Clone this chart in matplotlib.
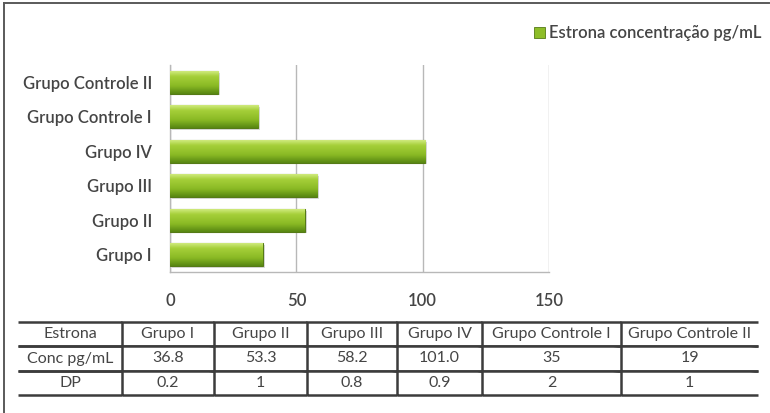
import numpy as np
import matplotlib
matplotlib.use("Agg")
import matplotlib.pyplot as plt
from matplotlib.colors import LinearSegmentedColormap
from matplotlib.lines import Line2D

# Estrona concentration per group (pg/mL) and standard deviation
groups = ["Grupo I", "Grupo II", "Grupo III", "Grupo IV",
          "Grupo Controle I", "Grupo Controle II"]
conc = [36.8, 53.3, 58.2, 101.0, 35, 19]
conc_labels = ["36.8", "53.3", "58.2", "101.0", "35", "19"]
dp_labels = ["0.2", "1", "0.8", "0.9", "2", "1"]
xticks = [0, 50, 100, 150]
legend_label = "Estrona concentração pg/mL"

FONT = "Lato"
TXT = "#454545"
W, H = 770, 413

fig = plt.figure(figsize=(W / 100, H / 100), dpi=100)
fig.patch.set_facecolor("white")


def px_box(x0, y0, x1, y1):
    """pixel box (top-left origin) -> figure fraction rect"""
    return [x0 / W, 1 - y1 / H, (x1 - x0) / W, (y1 - y0) / H]


# outer frame (left and top edges)
fig.add_artist(Line2D([4 / W, 4 / W], [0, 1 - 3 / H], transform=fig.transFigure,
                      color="#5a5a5a", lw=1.4))
fig.add_artist(Line2D([4 / W, 769 / W], [1 - 3 / H, 1 - 3 / H], transform=fig.transFigure,
                      color="#5a5a5a", lw=1.4))

# bar chart
ax = fig.add_axes(px_box(170, 65, 549, 272))
ypos = np.arange(len(groups))
grad_cmap = LinearSegmentedColormap.from_list(
    "bar", [(0.0, "#d0ea7e"), (0.22, "#a6d03a"), (0.65, "#89b924"), (1.0, "#578612")])
grad = np.linspace(0, 1, 64).reshape(-1, 1)

# soft drop shadow under each bar
ax.barh(ypos - 0.05, conc, height=0.66, left=0.8, color="#9a9a9a", alpha=0.35,
        zorder=2, linewidth=0)
bars = ax.barh(ypos, conc, height=0.66, color="#8dbd28", edgecolor="#557a16",
               linewidth=0.8, zorder=3)
for b in bars:
    x0, y0 = b.get_x(), b.get_y()
    im = ax.imshow(grad, cmap=grad_cmap, aspect="auto", origin="upper",
                   extent=(x0, x0 + b.get_width(), y0, y0 + b.get_height()),
                   zorder=3.5, interpolation="bicubic")
    im.set_clip_path(b)

ax.set_xlim(0, 150)
ax.set_ylim(-0.5, len(groups) - 0.5)
ax.set_xticks(xticks)
ax.set_xticklabels([str(t) for t in xticks], fontsize=12, color=TXT, family=FONT)
ax.set_yticks(ypos)
ax.set_yticklabels(groups, fontsize=12, color=TXT, family=FONT)
ax.tick_params(axis="both", length=0)
ax.tick_params(axis="x", pad=15)
ax.tick_params(axis="y", pad=13)
for t in ax.get_xticklabels() + ax.get_yticklabels():
    t.set_fontweight("semibold")
ax.xaxis.grid(True, color="#b8b8b8", lw=1.0, zorder=1)
ax.set_axisbelow(True)
for s in ["top", "right"]:
    ax.spines[s].set_visible(False)
for s in ["left", "bottom"]:
    ax.spines[s].set_color("#b8b8b8")
    ax.spines[s].set_linewidth(1.0)

# legend
fig.legend([plt.Rectangle((0, 0), 1, 1, facecolor="#8dbd28", edgecolor="#557a16", lw=0.6)],
           [legend_label], loc="center left", bbox_to_anchor=(526 / W, 1 - 33 / H),
           frameon=False, handlelength=0.65, handleheight=0.65, handletextpad=0.25,
           borderpad=0, prop={"family": FONT, "size": 12, "weight": "semibold"},
           labelcolor=TXT)

# data table under the chart
tax = fig.add_axes(px_box(18, 322, 758, 395))
tax.axis("off")
col_widths = np.array([104, 92, 93, 90, 85, 139, 137], dtype=float)
col_widths /= col_widths.sum()
cells = [["Estrona"] + groups,
         ["Conc pg/mL"] + conc_labels,
         ["DP"] + dp_labels]
tbl = tax.table(cellText=cells, colWidths=col_widths, cellLoc="center",
                bbox=[0, 0, 1, 1])
tbl.auto_set_font_size(False)
for (r, c), cell in tbl.get_celld().items():
    cell.visible_edges = "TB" if c == 0 else "TBL"
    cell.set_edgecolor("#3c3c3c")
    cell.set_linewidth(1.8)
    cell.get_text().set_fontsize(11.5)
    cell.get_text().set_color(TXT)
    cell.get_text().set_family(FONT)

fig.savefig("out.png", dpi=100, facecolor="white")
